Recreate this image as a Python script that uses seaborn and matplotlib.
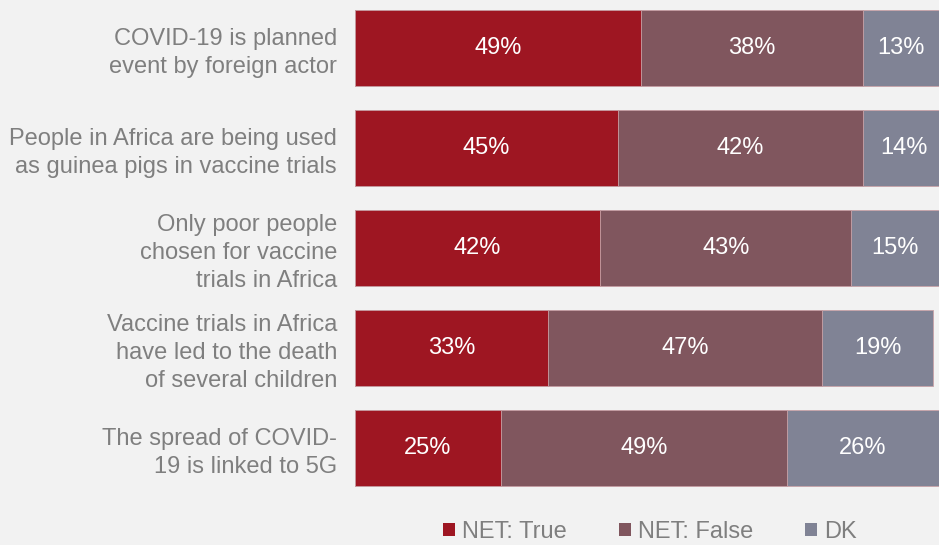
import numpy as np
import pandas as pd
import seaborn as sns
import matplotlib.pyplot as plt
from matplotlib.patches import Patch

statements = [
    'COVID-19 is planned\nevent by foreign actor',
    'People in Africa are being used\nas guinea pigs in vaccine trials',
    'Only poor people\nchosen for vaccine\ntrials in Africa',
    'Vaccine trials in Africa\nhave led to the death\nof several children',
    'The spread of COVID-\n19 is linked to 5G',
]
net_true = [49, 45, 42, 33, 25]
net_false = [38, 42, 43, 47, 49]
dk = [13, 14, 15, 19, 26]

series = ['NET: True', 'NET: False', 'DK']
colors = ['#9E1622', '#80565E', '#808395']
bg = '#F2F2F2'
grey = '#7F7F7F'

df = pd.DataFrame({'statement': statements, 'NET: True': net_true,
                   'NET: False': net_false, 'DK': dk})
df['c1'] = df['NET: True']
df['c2'] = df['c1'] + df['NET: False']
df['c3'] = df['c2'] + df['DK']

sns.set_style('white')
plt.rcParams['font.family'] = ['Liberation Sans', 'DejaVu Sans']

fig = plt.figure(figsize=(9.39, 5.45), dpi=100, facecolor=bg)
ax = fig.add_axes([0.378, 0.0862, 0.622, 0.9138])
ax.set_facecolor(bg)

# draw the cumulative totals back to front so they stack
for col, c in zip(['c3', 'c2', 'c1'], colors[::-1]):
    sns.barplot(data=df, x=col, y='statement', orient='h', color=c,
                width=0.76, edgecolor='#C9A3A8', linewidth=0.6,
                saturation=1, ax=ax)

for i, row in df.iterrows():
    starts = [0, row['c1'], row['c2']]
    for s, v in zip(starts, [row['NET: True'], row['NET: False'], row['DK']]):
        ax.text(s + v / 2, i, f'{v}%', ha='center', va='center',
                color='white', fontsize=17)

ax.set_xlim(0, 100)
ax.set_ylim(4.505, -0.475)
ax.set_xlabel('')
ax.set_ylabel('')
ax.set_xticks([])
ax.tick_params(axis='y', length=0, pad=13, labelsize=17, labelcolor=grey)
for lab in ax.get_yticklabels():
    lab.set_linespacing(1.35)
sns.despine(ax=ax, left=True, bottom=True)

handles = [Patch(facecolor=c, edgecolor='none') for c in colors]
leg = fig.legend(handles, series, loc='center', ncol=3,
                 bbox_to_anchor=(0.692, 0.024), frameon=False,
                 fontsize=17, handlelength=0.5, handleheight=0.5,
                 handletextpad=0.3, columnspacing=2.2,
                 borderpad=0, borderaxespad=0)
for t in leg.get_texts():
    t.set_color(grey)

fig.savefig('out.png', dpi=100, facecolor=bg)
